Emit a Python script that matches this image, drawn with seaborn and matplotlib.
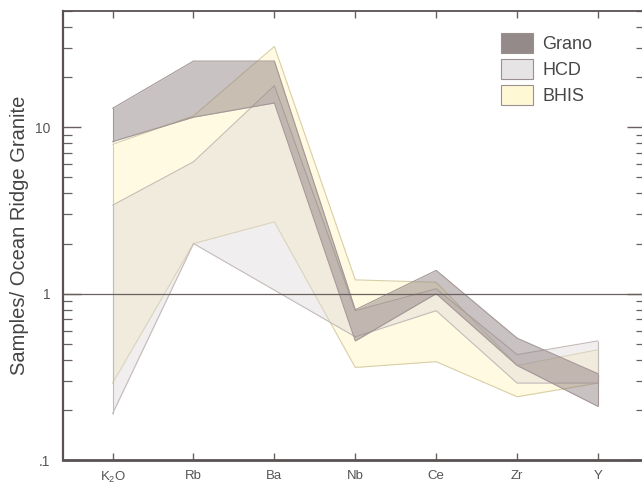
import numpy as np
import pandas as pd
import matplotlib
matplotlib.use("Agg")
import matplotlib.pyplot as plt
import seaborn as sns
from matplotlib.patches import Patch

# ---------------- data ----------------
categories = ["K$_2$O", "Rb", "Ba", "Nb", "Ce", "Zr", "Y"]
groups = ["Grano", "HCD", "BHIS"]

grano_upper = [13.0, 25.0, 25.0, 0.80, 1.38, 0.54, 0.33]
grano_lower = [8.2, 11.5, 14.0, 0.52, 1.00, 0.37, 0.21]
hcd_upper = [3.4, 6.2, 17.8, 0.79, 1.07, 0.43, 0.52]
hcd_lower = [0.19, 2.0, 1.05, 0.55, 0.79, 0.29, 0.29]
bhis_upper = [7.9, 11.7, 30.6, 1.21, 1.17, 0.37, 0.46]
bhis_lower = [0.29, 2.0, 2.7, 0.36, 0.39, 0.24, 0.29]

ytick_values = [0.1, 1, 10]
ytick_labels = [".1", "1", "10"]

# ---------------- style ----------------
sns.set_theme(style="ticks")
plt.rcParams["font.family"] = ["Liberation Sans", "DejaVu Sans"]
plt.rcParams["mathtext.fontset"] = "custom"
plt.rcParams["mathtext.rm"] = "Liberation Sans"
plt.rcParams["mathtext.it"] = "Liberation Sans:italic"
plt.rcParams["mathtext.bf"] = "Liberation Sans:bold"

fill_style = {
    "BHIS": ("#fff5b9", 0.42, "#d8cfa6"),
    "HCD": ("#dedada", 0.45, "#c4bbb8"),
    "Grano": ("#8c7e7e", 0.47, "#a59797"),
}
legend_colors = {"Grano": "#958a8a", "HCD": "#e6e4e4", "BHIS": "#fff8d4"}

bounds = {
    "Grano": (grano_upper, grano_lower),
    "HCD": (hcd_upper, hcd_lower),
    "BHIS": (bhis_upper, bhis_lower),
}

rows = []
for g in groups:
    up, lo = bounds[g]
    for i, c in enumerate(categories):
        rows.append(dict(group=g, bound="upper", x=i, value=up[i]))
        rows.append(dict(group=g, bound="lower", x=i, value=lo[i]))
df = pd.DataFrame(rows)

W, H = 642, 486
fig = plt.figure(figsize=(W / 100, H / 100), dpi=100)
ax = fig.add_axes([63 / W, 26 / H, 582 / W, 449 / H])

x = np.arange(len(categories))
order = ["BHIS", "HCD", "Grano"]
for z, g in enumerate(order):
    fc, a, ec = fill_style[g]
    up, lo = bounds[g]
    ax.fill_between(x, lo, up, facecolor=fc, alpha=a, linewidth=0, zorder=1 + z)
    sub = df[df.group == g]
    sns.lineplot(data=sub, x="x", y="value", units="bound", estimator=None,
                 color=ec, linewidth=0.8, ax=ax, legend=False, zorder=1.5 + z)
    ax.vlines([x[0], x[-1]], [lo[0], lo[-1]], [up[0], up[-1]], color=ec,
              linewidth=0.8, zorder=1.5 + z)

ax.axhline(1, color="#6b6060", linewidth=0.9, zorder=6)

ax.set_yscale("log")
ax.set_ylim(0.1, 50)
ax.set_xlim(-0.613, 6.581)

ax.set_xticks(x)
ax.set_xticklabels(categories)
ax.set_yticks(ytick_values)
ax.set_yticklabels(ytick_labels)
minor = [v * m for v in [0.1, 1, 10] for m in range(2, 10) if v * m <= 50]
ax.set_yticks(minor, minor=True)
ax.set_yticklabels([], minor=True)

ax.set_xlabel("")
ax.set_ylabel("")

tick_col = "#6a6060"
ax.tick_params(axis="y", which="major", direction="in", left=True, right=True,
               length=13, width=1.0, color=tick_col, labelsize=10,
               labelcolor="#555555", pad=9)
ax.tick_params(axis="y", which="minor", direction="in", left=True, right=True,
               length=6.5, width=0.9, color=tick_col)
ax.tick_params(axis="x", which="major", direction="in", top=True, bottom=True,
               length=5, width=1.0, color=tick_col, labelsize=9.5,
               labelcolor="#555555", pad=7)

for side, lw in [("left", 1.6), ("bottom", 2.0), ("top", 1.3), ("right", 1.3)]:
    ax.spines[side].set_visible(True)
    ax.spines[side].set_color("#5a5252")
    ax.spines[side].set_linewidth(lw)

handles = [Patch(facecolor=legend_colors[g], edgecolor="#9a9090", linewidth=0.8)
           for g in groups]
fs = 13
px = fs * 100 / 72
leg = ax.legend(handles, groups, loc="upper left",
                bbox_to_anchor=(501 / W, 1 - 33 / H), bbox_transform=fig.transFigure,
                frameon=False, fontsize=fs, handlelength=32 / px,
                handleheight=24 / px, handletextpad=9 / px,
                labelspacing=6 / px, borderpad=0, borderaxespad=0)
for t in leg.get_texts():
    t.set_color("#474747")

fig.text(20 / W, 1 - 235 / H, "Samples/ Ocean Ridge Granite", rotation=90,
         ha="center", va="center", fontsize=14.5, color="#444444")

fig.savefig("out.png", dpi=100)
